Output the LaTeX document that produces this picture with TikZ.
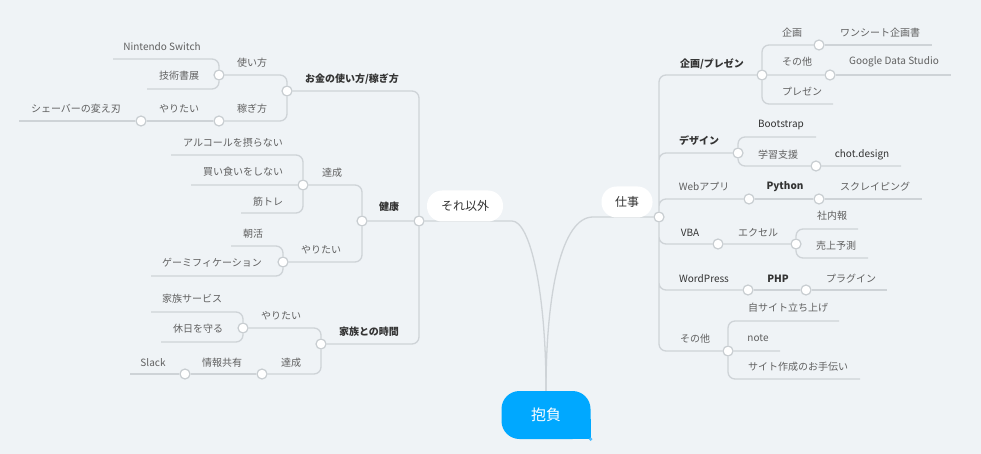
\documentclass[tikz,border=0pt]{standalone}
\usepackage{fontspec}
\setmainfont{Noto Sans CJK JP}
\usepackage{tikz}
\usetikzlibrary{backgrounds}
\definecolor{paperGray}{RGB}{239,243,246}
\definecolor{lineGray}{RGB}{206,211,215}
\definecolor{dotGray}{RGB}{200,205,209}
\definecolor{textGray}{RGB}{96,96,96}
\definecolor{textDark}{RGB}{51,51,51}
\definecolor{rootBlue}{RGB}{0,168,255}
\definecolor{rootEdge}{RGB}{80,190,255}
\tikzset{
  link/.style={draw=lineGray, line width=1.3pt, rounded corners=7pt},
  dot/.style={circle, draw=dotGray, fill=white, line width=1.2pt, minimum size=10pt, inner sep=0pt},
  lbl/.style={font=\fontsize{10}{12}\selectfont, text=textGray, inner sep=0pt},
  boldlbl/.style={font=\fontsize{10}{12}\selectfont\bfseries, text=textDark, inner sep=0pt},
  pill/.style={fill=white, rounded corners=15pt, minimum height=31pt, inner sep=0pt, font=\fontsize{12}{14}\selectfont, text=textDark},
  rootbox/.style={fill=rootBlue, rounded corners=18pt, minimum width=89pt, minimum height=48pt, inner sep=0pt, font=\fontsize{15}{18}\selectfont, text=white}
}

\begin{document}
\begin{tikzpicture}[x=1pt,y=-1pt]
        \useasboundingbox (0,0) rectangle (981,454);
        % centre
        \node[rootbox] (root) at (546,415) {抱負};
        \fill[rootEdge] (root.south east) circle (1.8pt);
        \node[pill, minimum width=76pt] (otherPill) at (465,206) {それ以外};
        \node[pill, minimum width=51pt] (workPill) at (627,202) {仕事};
        \node[dot] (other) at (419,221) {};
        \node[dot] (work) at (659,217) {};
        \coordinate (otherBend) at (505,221);
        \coordinate (workBend) at (600,217);

        % left: money
        \node[dot] (money) at (287,91) {};
        \node[dot] (use) at (219,75) {};
        \node[dot] (earn) at (219,121) {};
        \node[dot] (earnWant) at (141,121) {};
        \coordinate (switchEnd) at (113,59);
        \coordinate (bookEnd) at (147,89);
        \coordinate (shaverEnd) at (19,121);
        \node[boldlbl] (moneyL) at (352,79) {お金の使い方/稼ぎ方};
        \node[lbl] (useL) at (252,63) {使い方};
        \node[lbl] (earnL) at (252,109) {稼ぎ方};
        \node[lbl] (switchL) at (162,47) {Nintendo Switch};
        \node[lbl] (bookL) at (179,76) {技術書展};
        \node[lbl] (earnWantL) at (179,109) {やりたい};
        \node[lbl] (shaverL) at (76,109) {シェーバーの変え刃};

        % left: health
        \node[dot] (health) at (362,221) {};
        \node[dot] (healthDone) at (303,185) {};
        \node[dot] (healthWant) at (283,262) {};
        \coordinate (alcoholEnd) at (171,155);
        \coordinate (snackEnd) at (191,185);
        \coordinate (gymEnd) at (241,213);
        \coordinate (morningEnd) at (231,246);
        \coordinate (gameEnd) at (151,276);
        \node[boldlbl] (healthL) at (389,207) {健康};
        \node[lbl] (healthDoneL) at (332,173) {達成};
        \node[lbl] (alcoholL) at (233,143) {アルコールを摂らない};
        \node[lbl] (snackL) at (243,172) {買い食いをしない};
        \node[lbl] (gymL) at (268,202) {筋トレ};
        \node[lbl] (healthWantL) at (321,250) {やりたい};
        \node[lbl] (morningL) at (253,234) {朝活};
        \node[lbl] (gameL) at (212,263) {ゲーミフィケーション};

        % left: family
        \node[dot] (family) at (321,344) {};
        \node[dot] (familyWant) at (243,328) {};
        \node[dot] (familyDone) at (262,374) {};
        \node[dot] (share) at (185,374) {};
        \coordinate (serviceEnd) at (151,312);
        \coordinate (holidayEnd) at (161,342);
        \coordinate (slackEnd) at (130,374);
        \node[boldlbl] (familyL) at (369,332) {家族との時間};
        \node[lbl] (familyWantL) at (281,316) {やりたい};
        \node[lbl] (serviceL) at (192,299) {家族サービス};
        \node[lbl] (holidayL) at (198,329) {休日を守る};
        \node[lbl] (familyDoneL) at (291,363) {達成};
        \node[lbl] (shareL) at (222,363) {情報共有};
        \node[lbl] (slackL) at (153,363) {Slack};

        % right: work
        \node[dot] (plan) at (762,75) {};
        \node[dot] (planDoc) at (819,45) {};
        \node[dot] (planOther) at (830,75) {};
        \node[dot] (design) at (738,153) {};
        \node[dot] (study) at (816,166) {};
        \node[dot] (webApp) at (749,199) {};
        \node[dot] (python) at (819,199) {};
        \node[dot] (vba) at (718,244) {};
        \node[dot] (excel) at (796,244) {};
        \node[dot] (wp) at (748,290) {};
        \node[dot] (php) at (806,290) {};
        \node[dot] (misc) at (728,351) {};
        \coordinate (sheetEnd) at (932,45);
        \coordinate (gdsEnd) at (951,75);
        \coordinate (presenEnd) at (833,104);
        \coordinate (bootEnd) at (816,137);
        \coordinate (chotEnd) at (901,166);
        \coordinate (scrapeEnd) at (922,199);
        \coordinate (newsEnd) at (858,229);
        \coordinate (salesEnd) at (868,258);
        \coordinate (pluginEnd) at (887,290);
        \coordinate (ownSiteEnd) at (839,321);
        \coordinate (noteEnd) at (780,351);
        \coordinate (helpEnd) at (860,379);
        \node[boldlbl] (planL) at (712,64) {企画/プレゼン};
        \node[lbl] (planDocL) at (792,33) {企画};
        \node[lbl] (sheetL) at (880,33) {ワンシート企画書};
        \node[lbl] (planOtherL) at (797,62) {その他};
        \node[lbl] (gdsL) at (894,62) {Google Data Studio};
        \node[lbl] (presenL) at (802,92) {プレゼン};
        \node[boldlbl] (designL) at (699,141) {デザイン};
        \node[lbl, text=textDark] (bootL) at (781,125) {Bootstrap};
        \node[lbl] (studyL) at (778,155) {学習支援};
        \node[lbl, text=textDark] (chotL) at (862,155) {chot.design};
        \node[lbl] (webAppL) at (704,187) {Webアプリ};
        \node[boldlbl] (pythonL) at (785,187) {Python};
        \node[lbl] (scrapeL) at (875,187) {スクレイピング};
        \node[lbl, text=textDark] (vbaL) at (690,233) {VBA};
        \node[lbl] (excelL) at (758,233) {エクセル};
        \node[lbl] (newsL) at (832,216) {社内報};
        \node[lbl] (salesL) at (836,246) {売上予測};
        \node[lbl, text=textDark] (wpL) at (704,279) {WordPress};
        \node[boldlbl] (phpL) at (778,279) {PHP};
        \node[lbl] (pluginL) at (851,279) {プラグイン};
        \node[lbl] (miscL) at (695,339) {その他};
        \node[lbl] (ownSiteL) at (788,308) {自サイト立ち上げ};
        \node[lbl] (noteL) at (758,338) {note};
        \node[lbl] (helpL) at (798,367) {サイト作成のお手伝い};

        \begin{scope}[on background layer]
          \fill[paperGray] (0,0) rectangle (981,454);
          \fill[rootBlue] (root.south east) rectangle ++(-20,-20);
          \draw[link] (root.north) .. controls +(0,-100) and +(25,0) .. (otherBend) -- (other);
          \draw[link] (root.north) .. controls +(0,-100) and +(-38,0) .. (workBend) -- (work);
          % left
          \draw[link] (other) |- (money) (other) -- (health) (other) |- (family);
          \draw[link] (money) |- (use) (money) |- (earn);
          \draw[link] (use) |- (switchEnd) (use) |- (bookEnd);
          \draw[link] (earn) -- (earnWant) -- (shaverEnd);
          \draw[link] (health) |- (healthDone) (health) |- (healthWant);
          \draw[link] (healthDone) |- (alcoholEnd) (healthDone) -- (snackEnd) (healthDone) |- (gymEnd);
          \draw[link] (healthWant) |- (morningEnd) (healthWant) |- (gameEnd);
          \draw[link] (family) |- (familyWant) (family) |- (familyDone);
          \draw[link] (familyWant) |- (serviceEnd) (familyWant) |- (holidayEnd);
          \draw[link] (familyDone) -- (share) -- (slackEnd);
          % right
          \draw[link] (work) |- (plan) (work) |- (design) (work) |- (webApp);
          \draw[link] (work) |- (vba) (work) |- (wp) (work) |- (misc);
          \draw[link] (plan) |- (planDoc) (plan) -- (planOther) (plan) |- (presenEnd);
          \draw[link] (planDoc) -- (sheetEnd) (planOther) -- (gdsEnd);
          \draw[link] (design) |- (bootEnd) (design) |- (study) (study) -- (chotEnd);
          \draw[link] (webApp) -- (python) -- (scrapeEnd);
          \draw[link] (vba) -- (excel) (excel) |- (newsEnd) (excel) |- (salesEnd);
          \draw[link] (wp) -- (php) -- (pluginEnd);
          \draw[link] (misc) |- (ownSiteEnd) (misc) -- (noteEnd) (misc) |- (helpEnd);
        \end{scope}
      \end{tikzpicture}
\end{document}
